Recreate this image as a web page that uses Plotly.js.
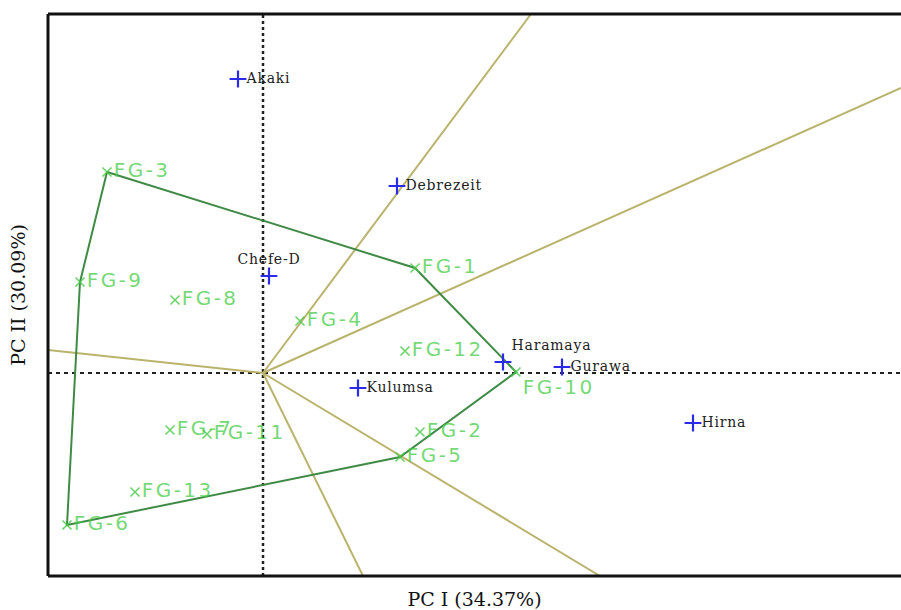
<!DOCTYPE html>
<html>
<head>
<meta charset="utf-8">
<script src="https://cdn.plot.ly/plotly-3.0.1.min.js"></script>
<style>
html,body{margin:0;padding:0;background:#fff;overflow:hidden}
.scatterlayer .trace:nth-child(3) .textpoint text{letter-spacing:2.5px}
.scatterlayer .trace:nth-child(4) .textpoint text{letter-spacing:0.8px}
</style>
</head>
<body>
<div id="chart" style="width:901px;height:610px"></div>
<script>
// Genotypes (green x)
const genoNames = ["FG-1","FG-2","FG-3","FG-4","FG-5","FG-6","FG-7","FG-8","FG-9","FG-10","FG-11","FG-12","FG-13"];
const genoPC1   = [1.52, 1.57, -1.56, 0.37, 1.37, -1.96, -0.93, -0.88, -1.83, 2.53, -0.56, 1.42, -1.28];
const genoPC2   = [1.05, -0.59, 2.01, 0.52, -0.84, -1.52, -0.57, 0.73, 0.91, 0.01, -0.61, 0.22, -1.19];
const genoTextPos = ["middle right","middle right","middle right","middle right","middle right","middle right","middle right",
                     "middle right","middle right","bottom right","middle right","middle right","middle right"];
// Environments (blue +)
const envNames = ["Akaki","Debrezeit","Chefe-D","Haramaya","Gurawa","Kulumsa","Hirna"];
const envPC1   = [-0.25, 1.34, 0.06, 2.40, 2.99, 0.95, 4.30];
const envPC2   = [2.94, 1.87, 0.97, 0.11, 0.06, -0.15, -0.50];
const envTextPos = ["middle right","middle right","top center","top right","middle right","middle right","middle right"];
// Polygon (convex hull) vertex order, by genotype name
const hullOrder = ["FG-3","FG-1","FG-10","FG-5","FG-6","FG-9","FG-3"];
// Sector rays: end points from origin
const rayPC1 = [2.68, 6.38, -2.15, 3.37, 1.00];
const rayPC2 = [3.59, 2.85, 0.23, -2.03, -2.03];
// Axis titles
const xTitle = "PC I (34.37%)";
const yTitle = "PC II (30.09%)";

const xr = [-2.15, 6.38], yr = [-2.03, 3.59];

const traces = [];
// rays
const rx = [], ry = [];
for (let i = 0; i < rayPC1.length; i++) { rx.push(0, rayPC1[i], null); ry.push(0, rayPC2[i], null); }
traces.push({type:"scatter", mode:"lines", x:rx, y:ry, line:{color:"#bab36c", width:2}, hoverinfo:"skip", cliponaxis:true});
// hull
const hx = hullOrder.map(n => genoPC1[genoNames.indexOf(n)]);
const hy = hullOrder.map(n => genoPC2[genoNames.indexOf(n)]);
traces.push({type:"scatter", mode:"lines", x:hx, y:hy, line:{color:"#3f8a45", width:2}, hoverinfo:"skip"});
// genotypes
traces.push({type:"scatter", mode:"markers+text", x:genoPC1, y:genoPC2, text:genoNames,
  textposition:genoTextPos,
  marker:{symbol:"x-thin-open", size:9, line:{color:"rgba(70,200,70,0.8)", width:1.6}, color:"rgba(70,200,70,0.8)"},
  textfont:{family:"DejaVu Sans", size:20, color:"rgba(70,205,70,0.75)"}, cliponaxis:false});
// environments
traces.push({type:"scatter", mode:"markers+text", x:envPC1, y:envPC2, text:envNames,
  textposition:envTextPos,
  marker:{symbol:"cross-thin-open", size:12, line:{color:"#2a2ae8", width:2.2}, color:"#2a2ae8"},
  textfont:{family:"DejaVu Serif", size:14, color:"#222"}, cliponaxis:false});

const layout = {
  width:901, height:610,
  margin:{l:48, r:0, t:14, b:34},
  paper_bgcolor:"#fff", plot_bgcolor:"#fff",
  showlegend:false,
  xaxis:{range:xr, showgrid:false, zeroline:false, showticklabels:false, ticks:"", showline:false,
         title:{text:xTitle, font:{family:"DejaVu Serif", size:19, color:"#111"}, standoff:18}, automargin:false, fixedrange:true},
  yaxis:{range:yr, showgrid:false, zeroline:false, showticklabels:false, ticks:"", showline:false,
         title:{text:yTitle, font:{family:"DejaVu Serif", size:19, color:"#111"}, standoff:16}, automargin:false, fixedrange:true},
  shapes:[
    {type:"line", xref:"x", yref:"paper", x0:0, x1:0, y0:0, y1:1, line:{color:"#222", width:2.5, dash:"dot"}, layer:"below"},
    {type:"line", xref:"paper", yref:"y", x0:0, x1:1, y0:0, y1:0, line:{color:"#222", width:2, dash:"4px,4px"}, layer:"below"},
    {type:"line", xref:"paper", yref:"paper", x0:0, x1:0, y0:0, y1:1, line:{color:"#111", width:3}},
    {type:"line", xref:"paper", yref:"paper", x0:0, x1:1, y0:1, y1:1, line:{color:"#111", width:3}},
    {type:"line", xref:"paper", yref:"paper", x0:0, x1:1, y0:0, y1:0, line:{color:"#111", width:3}}
  ]
};
Plotly.newPlot("chart", traces, layout, {displayModeBar:false, staticPlot:true});
</script>
</body>
</html>
